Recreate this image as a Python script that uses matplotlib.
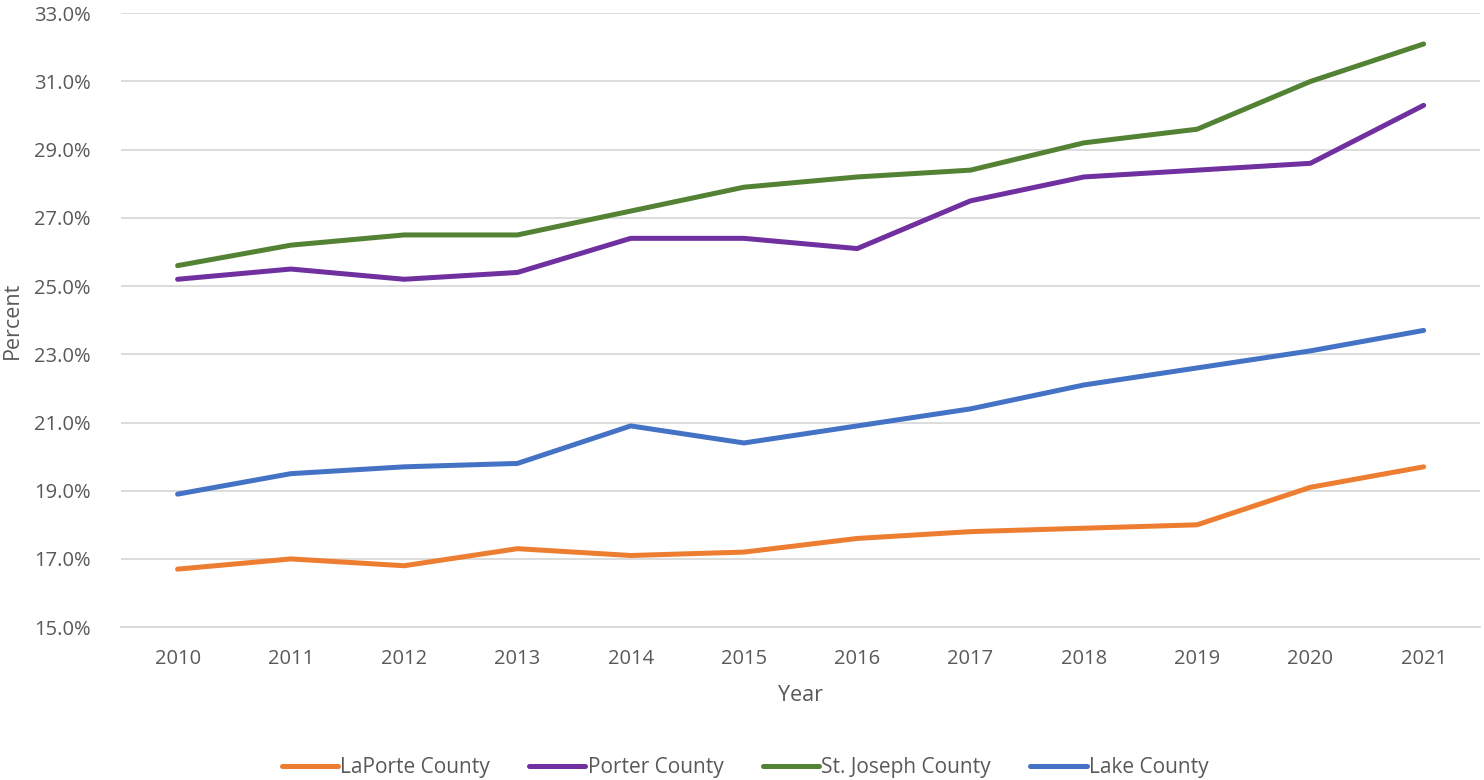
import matplotlib.pyplot as plt
from matplotlib.ticker import FuncFormatter

plt.rcParams['font.family'] = ['Open Sans', 'DejaVu Sans']

years = [2010, 2011, 2012, 2013, 2014, 2015, 2016, 2017, 2018, 2019, 2020, 2021]
laporte = [16.7, 17.0, 16.8, 17.3, 17.1, 17.2, 17.6, 17.8, 17.9, 18.0, 19.1, 19.7]
porter = [25.2, 25.5, 25.2, 25.4, 26.4, 26.4, 26.1, 27.5, 28.2, 28.4, 28.6, 30.3]
st_joseph = [25.6, 26.2, 26.5, 26.5, 27.2, 27.9, 28.2, 28.4, 29.2, 29.6, 31.0, 32.1]
lake = [18.9, 19.5, 19.7, 19.8, 20.9, 20.4, 20.9, 21.4, 22.1, 22.6, 23.1, 23.7]

series = [
    ("LaPorte County", laporte, "#ED7D31"),
    ("Porter County", porter, "#7030A0"),
    ("St. Joseph County", st_joseph, "#548235"),
    ("Lake County", lake, "#4472C4"),
]

txt = "#595959"
fig = plt.figure(figsize=(14.84, 7.8), dpi=100)
ax = fig.add_axes([0.0815, 0.196, 0.916, 0.787])

x = list(range(len(years)))
for name, vals, col in series:
    ax.plot(x, vals, color=col, lw=3.6, label=name, solid_capstyle="round")

ax.set_xlim(-0.5, len(years) - 0.5)
ax.set_ylim(15, 33)
ax.set_yticks(range(15, 34, 2))
ax.yaxis.set_major_formatter(FuncFormatter(lambda v, p: f"{v:.1f}%"))
ax.set_xticks(x)
ax.set_xticklabels([str(y) for y in years])
ax.grid(axis="y", color="#D9D9D9", lw=1.3)
ax.set_axisbelow(True)
for s in ["top", "right", "left"]:
    ax.spines[s].set_visible(False)
ax.spines["bottom"].set_color("#D9D9D9")
ax.spines["bottom"].set_linewidth(1.3)
ax.tick_params(length=0, colors=txt, labelsize=14.5)
ax.tick_params(axis="x", pad=16)
ax.tick_params(axis="y", pad=22)

ax.set_xlabel("Year", color=txt, fontsize=15.5, labelpad=11)
ax.set_ylabel("Percent", color=txt, fontsize=15.5, labelpad=8)

leg = fig.legend(loc="lower center", ncol=4, frameon=False, fontsize=15,
                 bbox_to_anchor=(0.502, -0.022), handlelength=2.7, handletextpad=0.1,
                 columnspacing=1.9)
for t in leg.get_texts():
    t.set_color(txt)

fig.savefig("out.png", dpi=100)
